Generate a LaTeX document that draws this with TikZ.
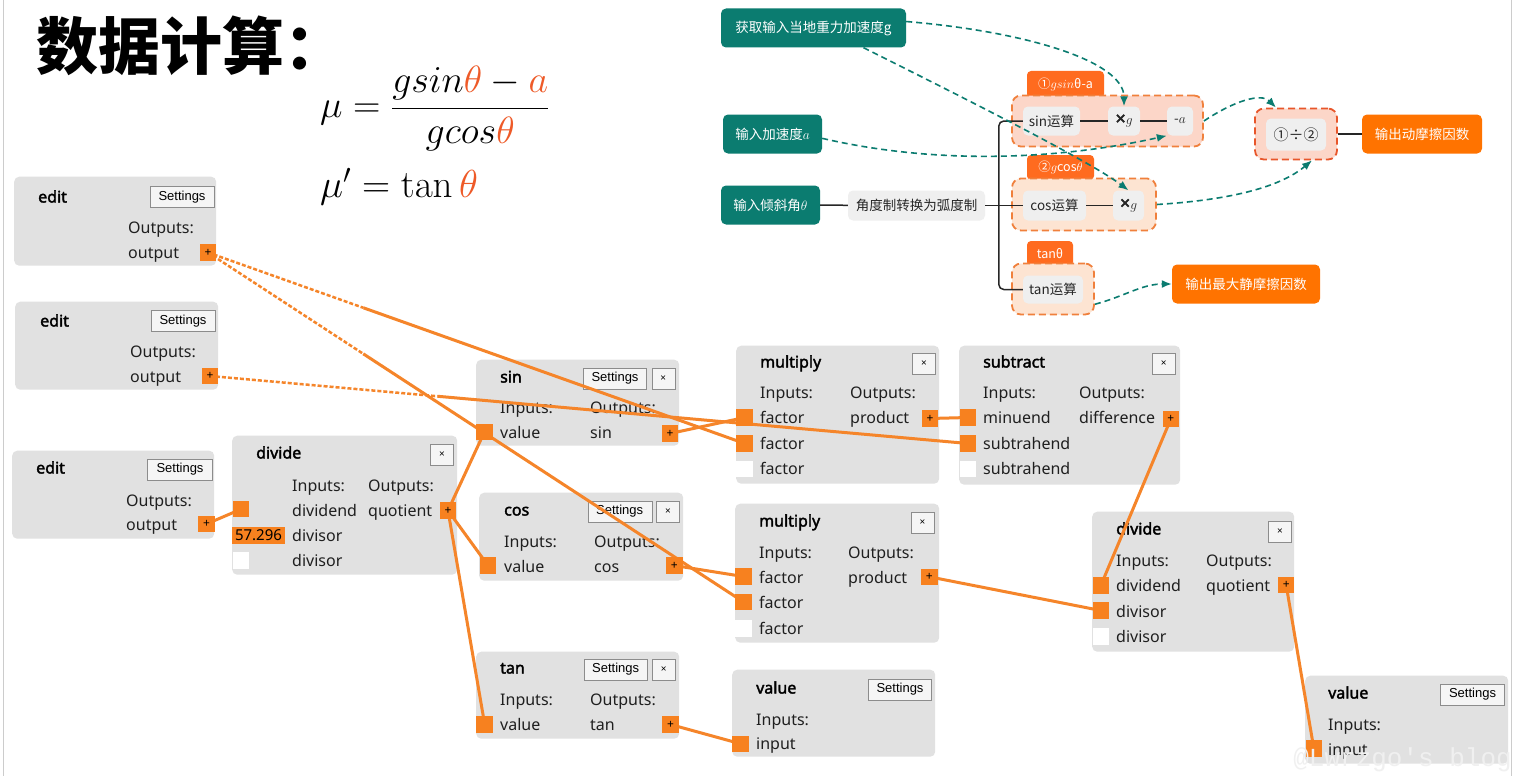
\RequirePackage{fix-cm}
\documentclass[tikz,border=0pt]{standalone}
\usepackage{amsmath}
\usepackage[no-math]{fontspec}
\setmainfont{Noto Sans}
\newfontfamily\heavy[FakeBold=2.2]{Noto Sans}
\newfontfamily\cjk{Noto Sans CJK SC}
\newfontfamily\btnfont{Liberation Sans}
\newfontfamily\markfont{Liberation Mono}
\usetikzlibrary{calc,positioning,arrows.meta}
\definecolor{boxgray}{HTML}{E1E1E1}
\definecolor{porto}{HTML}{F7811F}
\definecolor{wireo}{HTML}{F5852A}
\definecolor{mteal}{HTML}{0B7C70}
\definecolor{mor}{HTML}{FF7300}
\definecolor{tabor}{HTML}{FF6B1F}
\definecolor{grpline}{HTML}{F0803C}
\definecolor{grpred}{HTML}{E8562A}
\definecolor{grpA}{HTML}{FCD6C8}
\definecolor{grpB}{HTML}{FDE4D2}
\definecolor{opgray}{HTML}{EFEFEF}
\definecolor{fo}{HTML}{EE5A28}
\pgfdeclarelayer{bg}
\pgfdeclarelayer{fg}
\pgfsetlayers{bg,main,fg}

\begin{document}
\begin{tikzpicture}[x=1pt, y=-1pt]
    \tikzstyle{block} = [rectangle, rounded corners=5pt, fill=boxgray, anchor=north west, inner sep=0pt]
    \tikzstyle{title} = [anchor=base west, inner sep=0pt, font=\heavy\fontsize{16}{19}\selectfont]
    \tikzstyle{lbl} = [anchor=base west, inner sep=0pt, text=black!88, font=\fontsize{16}{19}\selectfont]
    \tikzstyle{btn} = [rectangle, draw=black!45, fill=black!4, inner sep=0pt, minimum height=21pt, font=\btnfont\fontsize{13}{15}\selectfont]
    \tikzstyle{xbtn} = [btn, minimum width=23pt, font=\fontsize{10}{12}\selectfont]
    \tikzstyle{port} = [rectangle, fill=porto, minimum size=16.5pt, inner sep=0pt, font=\fontsize{12}{12}\selectfont]
    \tikzstyle{free} = [port, fill=white]
    \tikzstyle{wire} = [draw=wireo, line width=3pt]
    \tikzstyle{dwire} = [draw=wireo, line width=2.5pt, dash pattern=on 4pt off 2pt]
    \tikzstyle{tealbox} = [rectangle, rounded corners=5pt, fill=mteal, text=white, minimum height=39pt, inner sep=0pt, font=\cjk\fontsize{13.5}{16}\selectfont]
    \tikzstyle{outbox} = [tealbox, fill=mor]
    \tikzstyle{opbox} = [rectangle, rounded corners=5pt, fill=opgray, text=black!85, minimum height=29pt, inner sep=0pt, font=\cjk\fontsize{13.5}{16}\selectfont]
    \tikzstyle{tab} = [rectangle, rounded corners=4pt, fill=tabor, text=white, minimum height=25pt, inner sep=0pt, font=\cjk\fontsize{12.5}{14}\selectfont]
    \tikzstyle{group} = [rectangle, rounded corners=9pt, draw=grpline, fill=grpB, line width=1.8pt, dash pattern=on 7pt off 4pt, inner sep=0pt]
    \tikzstyle{tree} = [draw=black!85, line width=1.5pt]
    \tikzstyle{flow} = [draw=mteal, line width=1.6pt, dash pattern=on 6pt off 4pt, -{Latex[length=10pt,width=8pt]}]

    \begin{pgfonlayer}{bg}
    \fill[white] (0,0) rectangle (1514,775);

    \node[block, minimum width=202pt, minimum height=89pt] (edit1) at (14,176) {};
    \node[title] (edit1-t) at (38,202) {edit};
    \node[btn, minimum width=64pt] (edit1-s) at (182,196.5) {Settings};
    \node[lbl] (edit1-h) at (128,233) {Outputs:};
    \node[lbl] (edit1-l) at (128,258) {output};

    \node[block, minimum width=203pt, minimum height=88pt] (edit2) at (15,301) {};
    \node[title] (edit2-t) at (40,326) {edit};
    \node[btn, minimum width=64pt] (edit2-s) at (183,320.5) {Settings};
    \node[lbl] (edit2-h) at (130,357) {Outputs:};
    \node[lbl] (edit2-l) at (130,382) {output};

    \node[block, minimum width=202pt, minimum height=88pt] (edit3) at (12,450) {};
    \node[title] (edit3-t) at (36,473) {edit};
    \node[btn, minimum width=65pt] (edit3-s) at (180,469) {Settings};
    \node[lbl] (edit3-h) at (126,506) {Outputs:};
    \node[lbl] (edit3-l) at (126,530) {output};

    \node[block, minimum width=225pt, minimum height=139pt] (div1) at (232,435) {};
    \node[title] (div1-t) at (256,458) {divide};
    \node[xbtn] (div1-x) at (442,454.5) {×};
    \node[lbl] (div1-i) at (292,491) {Inputs:};
    \node[lbl] (div1-o) at (368,491) {Outputs:};
    \node[lbl] (div1-l1) at (292,516) {dividend};
    \node[lbl] (div1-r1) at (368,516) {quotient};
    \node[lbl] (div1-l2) at (292,541) {divisor};
    \node[lbl] (div1-l3) at (292,566) {divisor};

    \node[block, minimum width=203pt, minimum height=86pt] (sin) at (476,359) {};
    \node[title] (sin-t) at (500,382) {sin};
    \node[btn, minimum width=63pt] (sin-s) at (615,378) {Settings};
    \node[xbtn] (sin-x) at (663.3,378) {×};
    \node[lbl] (sin-i) at (500,413) {Inputs:};
    \node[lbl] (sin-o) at (590,413) {Outputs:};
    \node[lbl] (sin-l1) at (500,438) {value};
    \node[lbl] (sin-r1) at (590,438) {sin};

    \node[block, minimum width=204pt, minimum height=88pt] (cos) at (479,492) {};
    \node[title] (cos-t) at (504,515) {cos};
    \node[btn, minimum width=64pt] (cos-s) at (619.7,511) {Settings};
    \node[xbtn] (cos-x) at (668,511) {×};
    \node[lbl] (cos-i) at (504,547) {Inputs:};
    \node[lbl] (cos-o) at (594,547) {Outputs:};
    \node[lbl] (cos-l1) at (504,572) {value};
    \node[lbl] (cos-r1) at (594,572) {cos};

    \node[block, minimum width=203pt, minimum height=87pt] (tan) at (476,651) {};
    \node[title] (tan-t) at (500,673) {tan};
    \node[btn, minimum width=63pt] (tan-s) at (615.7,669) {Settings};
    \node[xbtn] (tan-x) at (663.8,669) {×};
    \node[lbl] (tan-i) at (500,705) {Inputs:};
    \node[lbl] (tan-o) at (590,705) {Outputs:};
    \node[lbl] (tan-l1) at (500,730) {value};
    \node[lbl] (tan-r1) at (590,730) {tan};

    \node[block, minimum width=203pt, minimum height=138pt] (mul1) at (736,345) {};
    \node[title] (mul1-t) at (760,367) {multiply};
    \node[xbtn] (mul1-x) at (924,363.5) {×};
    \node[lbl] (mul1-i) at (760,398) {Inputs:};
    \node[lbl] (mul1-o) at (850,398) {Outputs:};
    \node[lbl] (mul1-l1) at (760,423) {factor};
    \node[lbl] (mul1-r1) at (850,423) {product};
    \node[lbl] (mul1-l2) at (760,449) {factor};
    \node[lbl] (mul1-l3) at (760,474) {factor};

    \node[block, minimum width=221pt, minimum height=139pt] (sub) at (959,345) {};
    \node[title] (sub-t) at (983,367) {subtract};
    \node[xbtn] (sub-x) at (1163.8,363) {×};
    \node[lbl] (sub-i) at (983,398) {Inputs:};
    \node[lbl] (sub-o) at (1079,398) {Outputs:};
    \node[lbl] (sub-l1) at (983,423) {minuend};
    \node[lbl] (sub-r1) at (1079,423) {difference};
    \node[lbl] (sub-l2) at (983,449) {subtrahend};
    \node[lbl] (sub-l3) at (983,474) {subtrahend};

    \node[block, minimum width=204pt, minimum height=139pt] (mul2) at (735,503) {};
    \node[title] (mul2-t) at (759,526) {multiply};
    \node[xbtn] (mul2-x) at (922.5,522) {×};
    \node[lbl] (mul2-i) at (759,558) {Inputs:};
    \node[lbl] (mul2-o) at (848,558) {Outputs:};
    \node[lbl] (mul2-l1) at (759,583) {factor};
    \node[lbl] (mul2-r1) at (848,583) {product};
    \node[lbl] (mul2-l2) at (759,608) {factor};
    \node[lbl] (mul2-l3) at (759,634) {factor};

    \node[block, minimum width=203pt, minimum height=87pt] (val1) at (732,669) {};
    \node[title] (val1-t) at (756,693) {value};
    \node[btn, minimum width=63pt] (val1-s) at (900,689) {Settings};
    \node[lbl] (val1-i) at (756,725) {Inputs:};
    \node[lbl] (val1-l1) at (756,749) {input};

    \node[block, minimum width=202pt, minimum height=140pt] (div2) at (1092,511) {};
    \node[title] (div2-t) at (1116,534) {divide};
    \node[xbtn] (div2-x) at (1280,531) {×};
    \node[lbl] (div2-i) at (1116,566) {Inputs:};
    \node[lbl] (div2-o) at (1206,566) {Outputs:};
    \node[lbl] (div2-l1) at (1116,591) {dividend};
    \node[lbl] (div2-r1) at (1206,591) {quotient};
    \node[lbl] (div2-l2) at (1116,617) {divisor};
    \node[lbl] (div2-l3) at (1116,642) {divisor};

    \node[block, minimum width=203pt, minimum height=88pt] (val2) at (1305,675) {};
    \node[title] (val2-t) at (1328,698) {value};
    \node[btn, minimum width=64pt] (val2-s) at (1472.5,694) {Settings};
    \node[lbl] (val2-i) at (1328,730) {Inputs:};
    \node[lbl] (val2-l1) at (1328,755) {input};
    \end{pgfonlayer}

    \begin{pgfonlayer}{fg}
    \node[port] (e1out) at (208,252) {+};
    \node[port] (e2out) at (210,375.5) {+};
    \node[port] (e3out) at (206.5,523.5) {+};
    \node[port] (dv1in1) at (241,508.7) {};
    \node[port, minimum width=53pt, font=\fontsize{15}{17}\selectfont] (dv1in2) at (258.5,535) {57.296};
    \node[free] (dv1in3) at (241,560) {};
    \node[port] (dv1out) at (448,510) {+};
    \node[port] (sinin) at (484.3,431.7) {};
    \node[port] (sinout) at (670,433) {+};
    \node[port] (cosin) at (488,565) {};
    \node[port] (cosout) at (674.3,565) {+};
    \node[port] (tanin) at (484.7,724) {};
    \node[port] (tanout) at (670.5,724) {+};
    \node[port] (m1in1) at (744.7,417) {};
    \node[port] (m1in2) at (744.7,443) {};
    \node[free] (m1in3) at (744.7,468.7) {};
    \node[port] (m1out) at (930,418) {+};
    \node[port] (sbin1) at (968,417) {};
    \node[port] (sbin2) at (968,443) {};
    \node[free] (sbin3) at (968,468.5) {};
    \node[port] (sbout) at (1170.8,418.5) {+};
    \node[port] (m2in1) at (743.3,576) {};
    \node[port] (m2in2) at (743.3,601.3) {};
    \node[free] (m2in3) at (743.3,628) {};
    \node[port] (m2out) at (929.3,576.3) {+};
    \node[port] (v1in) at (740.7,743.3) {};
    \node[port] (dv2in1) at (1100.8,585) {};
    \node[port] (dv2in2) at (1100.8,610) {};
    \node[free] (dv2in3) at (1100.8,636) {};
    \node[port] (dv2out) at (1286.2,584.7) {+};
    \node[port] (v2in) at (1313.8,748) {};
    \node[anchor=south east, inner sep=0pt, text=black!6, font=\markfont\fontsize{26}{28}\selectfont] (mark) at (1512,772) {@Lwrzgo's blog};
    \end{pgfonlayer}

    \coordinate (k1) at ($(e1out.center)!0.29!(m1in2.center)$);
    \coordinate (k2) at ($(e1out.center)!0.29!(m2in2.center)$);
    \coordinate (k3) at ($(e2out.center)!0.30!(sbin2.center)$);
    \draw[dwire] (e1out.center) -- (k1);
    \draw[wire] (k1) -- (m1in2.center);
    \draw[dwire] (e1out.center) -- (k2);
    \draw[wire] (k2) -- (m2in2.center);
    \draw[dwire] (e2out.center) -- (k3);
    \draw[wire] (k3) -- (sbin2.center);
    \draw[wire] (e3out.center) -- (dv1in1.center);
    \draw[wire] (dv1out.center) -- (sinin.center);
    \draw[wire] (dv1out.center) -- (cosin.center);
    \draw[wire] (dv1out.center) -- (tanin.center);
    \draw[wire] (sinout.center) -- (m1in1.center);
    \draw[wire] (cosout.center) -- (m2in1.center);
    \draw[wire] (tanout.center) -- (v1in.center);
    \draw[wire] (m1out.center) -- (sbin1.center);
    \draw[wire] (m2out.center) -- (dv2in2.center);
    \draw[wire] (sbout.center) -- (dv2in1.center);
    \draw[wire] (dv2out.center) -- (v2in.center);

    \draw[black!20, line width=1pt] (3,0) -- (3,775);
    \draw[black!20, line width=1pt] (1511,0) -- (1511,775);

    \node[anchor=west, inner sep=0pt, font=\cjk\bfseries\fontsize{62}{64}\selectfont] (head) at (36,45) {数据计算：};
    \node[anchor=west, inner sep=0pt, font=\fontsize{38}{44}\selectfont] (mu) at (320,108) {$\mu=\dfrac{gsin{\color{fo}\theta}-{\color{fo}a}}{gcos{\color{fo}\theta}}$};
    \node[anchor=base west, inner sep=0pt, font=\fontsize{39}{44}\selectfont] (mup) at (320,197) {$\mu'=\tan{\color{fo}\theta}$};

    \node[tealbox, minimum width=185pt] (gin) at (813.5,27.5) {获取输入当地重力加速度g};
    \node[tealbox, minimum width=99pt] (ain) at (772.5,133.5) {输入加速度$a$};
    \node[tealbox, minimum width=99pt] (thin) at (770.5,204.5) {输入倾斜角$\theta$};
    \node[opbox, minimum width=137pt, minimum height=30pt] (conv) at (916.5,205) {角度制转换为弧度制};

    \node[tab, minimum width=77pt, minimum height=27pt] (tab1) at (1065.5,84) {①$gsin$θ-a};
    \node[tab, minimum width=67pt] (tab2) at (1060.5,167) {②$g$cos$\theta$};
    \node[tab, minimum width=46pt] (tab3) at (1050,253) {tanθ};
    \node[group, fill=grpA, minimum width=191pt, minimum height=51pt] (grp1) at (1107.5,120.5) {};
    \node[group, minimum width=144pt, minimum height=52pt] (grp2) at (1084,204) {};
    \node[group, minimum width=82pt, minimum height=51pt] (grp3) at (1053,288.5) {};
    \node[group, draw=grpred, fill=grpA, minimum width=82pt, minimum height=51pt] (grp4) at (1296,133.5) {};

    \node[opbox, minimum width=57pt] (sinop) at (1051.5,120.5) {sin运算};
    \node[opbox, minimum width=32pt] (g1x) at (1124,120.5) {{\heavy\fontsize{18}{18}\selectfont ×}$g$};
    \node[opbox, minimum width=26pt] (g1a) at (1180,120.5) {-$a$};
    \node[opbox, minimum width=63pt, minimum height=30pt] (cosop) at (1054.5,205) {cos运算};
    \node[opbox, minimum width=31pt, minimum height=30pt] (g2x) at (1128.5,205) {{\heavy\fontsize{18}{18}\selectfont ×}$g$};
    \node[opbox, minimum width=60pt, minimum height=28pt] (tanop) at (1053,289) {tan运算};
    \node[opbox, minimum width=60pt, minimum height=32pt, font=\cjk\fontsize{15}{17}\selectfont] (divop) at (1296,134) {①÷②};

    \node[outbox, minimum width=120pt] (out1) at (1422,133.5) {输出动摩擦因数};
    \node[outbox, minimum width=148pt] (out2) at (1246,283.5) {输出最大静摩擦因数};

    \draw[tree] (thin) -- (conv);
    \draw[tree] (conv) -- (cosop);
    \draw[tree, rounded corners=5pt] (sinop.west) -- ++(-24,0) |- (tanop.west);
    \draw[tree] (sinop) -- (g1x);
    \draw[tree] (g1x) -- (g1a);
    \draw[tree] (cosop) -- (g2x);
    \draw[tree] (grp4) -- (out1);

    \draw[flow] (gin.4) .. controls +(120,10) and +(0,-45) .. (g1x.north);
    \draw[flow] ([xshift=50pt]gin.south) .. controls +(90,45) and +(-40,-30) .. (g2x.north);
    \draw[flow] (ain.-5) .. controls +(130,30) and +(-90,20) .. (g1a.south west);
    \draw[flow] (grp1.east) .. controls +(30,-20) and +(-15,-15) .. ([xshift=-20pt]grp4.north);
    \draw[flow] (grp2.east) .. controls +(80,-5) and +(-30,25) .. ([xshift=16pt]grp4.south);
    \draw[flow] (grp3.-20) .. controls +(30,-8) and +(-30,0) .. (out2.west);

    \useasboundingbox (0,0) rectangle (1514,775);
\end{tikzpicture}
\end{document}
